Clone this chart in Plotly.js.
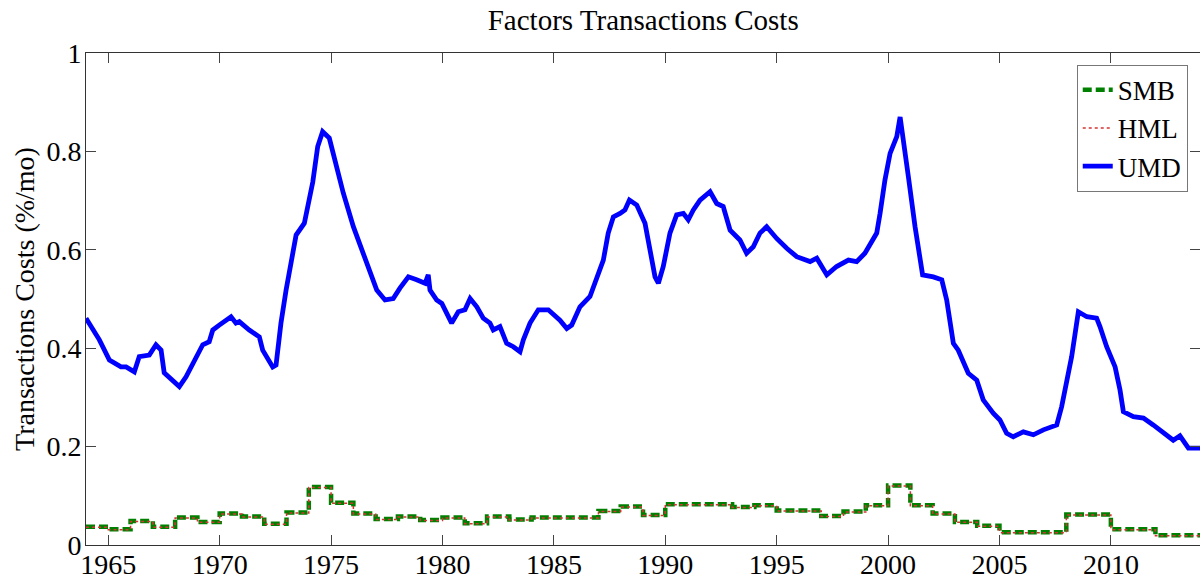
<!DOCTYPE html>
<html>
<head>
<meta charset="utf-8">
<script src="https://cdn.plot.ly/plotly-3.0.1.min.js"></script>
<style>html,body{margin:0;padding:0;background:#fff;}#chart{width:1200px;height:581px;}</style>
</head>
<body>
<div id="chart"></div>
<script>
// UMD
const umdYears = [1964.00,1964.60,1965.05,1965.57,1965.80,1966.17,1966.39,1966.84,1967.14,1967.37,
1967.51,1967.89,1968.19,1968.49,1968.94,1969.24,1969.53,1969.69,1969.98,1970.51,
1970.73,1970.88,1971.33,1971.78,1971.93,1972.38,1972.53,1972.75,1972.98,1973.20,
1973.43,1973.80,1974.02,1974.18,1974.40,1974.62,1974.92,1975.25,1975.55,1976.00,
1976.45,1977.05,1977.42,1977.79,1978.09,1978.47,1978.84,1979.22,1979.36,1979.44,
1979.74,1979.97,1980.41,1980.71,1981.01,1981.24,1981.54,1981.83,1982.13,1982.28,
1982.58,1982.88,1983.18,1983.48,1983.63,1983.93,1984.30,1984.75,1985.27,1985.58,
1985.80,1986.17,1986.62,1986.92,1987.22,1987.44,1987.67,1987.97,1988.19,1988.39,
1988.72,1989.09,1989.31,1989.54,1989.69,1989.91,1990.21,1990.51,1990.81,1991.03,
1991.26,1991.56,1992.01,1992.31,1992.60,1992.91,1993.35,1993.65,1993.95,1994.25,
1994.55,1995.00,1995.45,1995.90,1996.50,1996.80,1997.25,1997.69,1998.22,1998.59,
1998.96,1999.19,1999.49,1999.64,1999.86,2000.09,2000.39,2000.54,2000.68,2000.91,
2001.21,2001.43,2001.55,2002.03,2002.41,2002.63,2002.93,2003.15,2003.60,2003.98,
2004.27,2004.72,2005.02,2005.32,2005.62,2006.07,2006.52,2006.97,2007.57,2007.79,
2008.02,2008.24,2008.54,2008.92,2009.36,2009.51,2009.81,2010.19,2010.41,2010.56,
2011.01,2011.46,2011.90,2012.35,2012.80,2013.10,2013.48,2014.00];
const umdValues = [0.461,0.417,0.376,0.362,0.362,0.352,0.383,0.386,0.407,0.396,
0.350,0.335,0.322,0.342,0.383,0.407,0.413,0.437,0.447,0.464,
0.451,0.454,0.437,0.423,0.396,0.362,0.366,0.451,0.518,0.573,
0.630,0.654,0.701,0.738,0.810,0.840,0.827,0.769,0.715,0.647,
0.593,0.518,0.498,0.501,0.522,0.545,0.539,0.532,0.549,0.518,
0.498,0.491,0.451,0.474,0.478,0.501,0.484,0.461,0.451,0.437,
0.444,0.410,0.403,0.393,0.417,0.451,0.478,0.478,0.457,0.440,
0.447,0.484,0.505,0.539,0.579,0.634,0.667,0.674,0.681,0.701,
0.691,0.654,0.606,0.545,0.532,0.566,0.634,0.671,0.674,0.661,
0.681,0.701,0.718,0.694,0.688,0.640,0.620,0.593,0.606,0.634,
0.647,0.623,0.603,0.586,0.576,0.583,0.549,0.566,0.579,0.576,
0.593,0.613,0.634,0.674,0.742,0.796,0.830,0.870,0.830,0.749,
0.647,0.586,0.549,0.545,0.539,0.498,0.410,0.396,0.349,0.335,
0.295,0.268,0.254,0.227,0.220,0.230,0.224,0.234,0.244,0.281,
0.329,0.383,0.474,0.464,0.461,0.444,0.403,0.362,0.315,0.271,
0.261,0.258,0.244,0.227,0.213,0.222,0.197,0.197];

// SMB and HML (yearly steps)
const stepYears = [1964,1965,1966,1967,1968,1969,1970,1971,1972,1973,
1974,1975,1976,1977,1978,1979,1980,1981,1982,1983,
1984,1985,1986,1987,1988,1989,1990,1991,1992,1993,
1994,1995,1996,1997,1998,1999,2000,2001,2002,2003,
2004,2005,2006,2007,2008,2009,2010,2011,2012,2013,2014];
const smbValues = [0.037,0.032,0.049,0.037,0.056,0.047,0.064,0.058,0.043,0.066,
0.118,0.086,0.064,0.053,0.058,0.051,0.056,0.044,0.058,0.052,
0.056,0.056,0.056,0.069,0.078,0.061,0.083,0.083,0.083,0.077,
0.081,0.070,0.070,0.059,0.068,0.081,0.121,0.081,0.064,0.047,
0.039,0.026,0.026,0.026,0.062,0.062,0.032,0.032,0.020,0.020,0.020];
const hmlValues = [0.036,0.031,0.048,0.036,0.055,0.046,0.063,0.057,0.042,0.065,
0.117,0.085,0.063,0.052,0.057,0.050,0.055,0.043,0.057,0.051,
0.055,0.055,0.055,0.068,0.077,0.060,0.082,0.082,0.082,0.076,
0.080,0.069,0.069,0.058,0.067,0.080,0.120,0.080,0.063,0.046,
0.038,0.025,0.025,0.025,0.061,0.061,0.031,0.031,0.019,0.019,0.019];

const serif = '"Liberation Serif", "Times New Roman", serif';

const traces = [
  {x: stepYears, y: smbValues, name: 'SMB', mode: 'lines', line: {color: 'rgb(0,128,0)', width: 4.5, dash: '9px,4px', shape: 'hv'}},
  {x: stepYears, y: hmlValues, name: 'HML', mode: 'lines', line: {color: 'rgb(215,50,50)', width: 1.5, dash: 'dot', shape: 'hv'}},
  {x: umdYears, y: umdValues, name: 'UMD', mode: 'lines', line: {color: 'rgb(0,0,255)', width: 4.8}}
];

const axisCommon = {
  showgrid: false, zeroline: false, showline: true, linecolor: '#333', linewidth: 1,
  mirror: 'ticks', ticks: 'inside', ticklen: 10, tickwidth: 1, tickcolor: '#444',
  tickfont: {family: serif, size: 28, color: '#000'}
};

const layout = {
  width: 1200, height: 581,
  margin: {l: 86, r: 0, t: 53, b: 36},
  paper_bgcolor: '#fff', plot_bgcolor: '#fff',
  title: {text: 'Factors Transactions Costs', font: {family: serif, size: 29, color: '#000'},
          x: 0.536, xanchor: 'center', yref: 'container', y: 0.965, yanchor: 'middle'},
  xaxis: Object.assign({}, axisCommon, {range: [1964, 2014], tick0: 1965, dtick: 5, ticklabelstandoff: -6}),
  yaxis: Object.assign({}, axisCommon, {range: [0, 1], dtick: 0.2, ticklabelstandoff: -2,
          title: {text: 'Transactions Costs (%/mo)', font: {family: serif, size: 28, color: '#000'}, standoff: 3}}),
  legend: {x: 0.989, y: 0.976, xanchor: 'right', yanchor: 'top', bgcolor: '#fff',
           bordercolor: '#777', borderwidth: 1, font: {family: serif, size: 27, color: '#000'},
           itemwidth: 30, tracegroupgap: 0},
  showlegend: true
};

Plotly.newPlot('chart', traces, layout, {displayModeBar: false, staticPlot: true});
</script>
</body>
</html>
